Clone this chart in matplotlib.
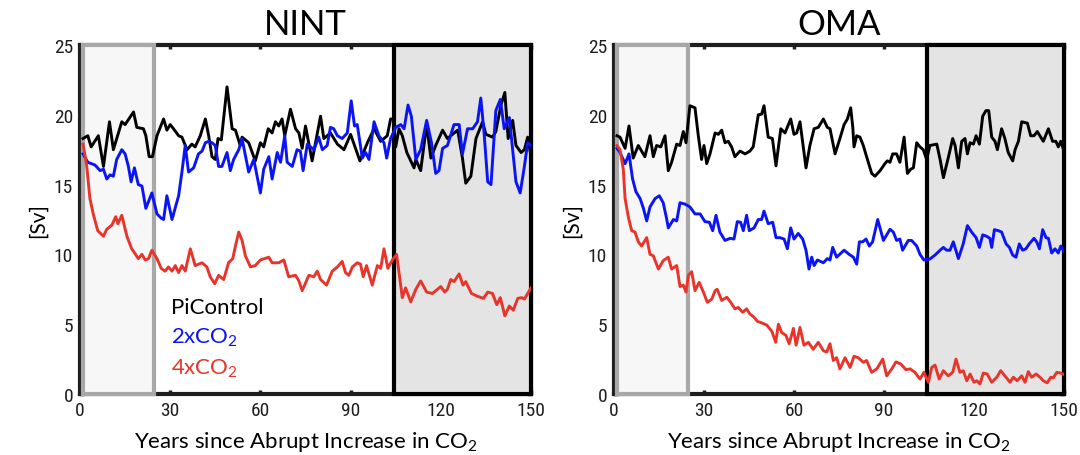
import matplotlib
matplotlib.use("Agg")
import matplotlib.pyplot as plt
from matplotlib.patches import Rectangle
from matplotlib import font_manager

plt.rcParams['font.family'] = ['Lato', 'DejaVu Sans']
plt.rcParams['mathtext.default'] = 'regular'

# ---------------- data ----------------
years_ticks = [0, 30, 60, 90, 120, 150]
sv_ticks = [0, 5, 10, 15, 20, 25]
panel_titles = ["NINT", "OMA"]
series_names = ["PiControl", "2xCO$_2$", "4xCO$_2$"]

nint_pi_yr = [1, 2.6, 3.7, 6.1, 7.8, 9.8, 11.1, 13.9, 15, 17.8, 18.9, 21.1, 21.9, 23, 24.1, 25.6, 27.8, 28.9, 30,
              31.1, 32.8, 33.9, 35.6, 37.2, 38.3, 40, 41.7, 42.8, 43.9, 45, 45.9, 47, 48.9, 50.6, 51.7, 53.3, 53.9,
              56.1, 58.3, 60, 61.1, 62.6, 63.9, 65, 66.1, 67.2, 68.1, 70, 71.7, 72.8, 73.9, 75, 77.2, 80, 81.1,
              83.3, 85.6, 87.8, 90, 93.1, 95.6, 97.8, 100, 102.2, 103.3, 104.2, 105, 106.1, 107.2, 108.7, 111.1,
              111.7, 113.3, 115.3, 116.7, 118.3, 120.6, 122.2, 123.9, 125.6, 127.2, 128.3, 130, 131.7, 133.9, 135,
              137.2, 138.3, 140, 141.3, 142.4, 143.9, 145, 146.7, 147.8, 148.9, 150]
nint_pi_sv = [18.3, 18.5, 17.7, 18.5, 16.3, 19.5, 17.5, 19.5, 19.3, 20.2, 19.1, 19.0, 18.5, 17.0, 17.0, 18.5, 19.7,
              18.9, 19.3, 19.0, 18.5, 18.4, 17.5, 17.9, 17.7, 18.5, 19.7, 18.5, 17.0, 16.8, 18.3, 18.2, 22.0, 19.0,
              18.9, 17.8, 18.4, 18.0, 16.7, 18.0, 17.7, 19.0, 18.7, 19.5, 19.2, 19.7, 18.5, 20.4, 19.0, 18.7, 17.6,
              19.2, 16.7, 19.9, 18.3, 18.7, 17.9, 17.5, 18.6, 16.7, 18.0, 19.0, 18.1, 18.5, 19.7, 19.7, 17.7, 19.0,
              18.5, 17.3, 16.2, 16.8, 16.0, 19.3, 16.9, 17.8, 18.9, 18.3, 18.6, 18.9, 16.9, 15.1, 15.6, 18.3, 19.5,
              18.6, 18.4, 18.8, 20.7, 21.6, 18.3, 19.6, 17.8, 17.3, 17.5, 18.4, 17.0]

nint_2x_yr = [1, 2.6, 5, 6.7, 7.8, 8.9, 10, 11.1, 12.2, 13.9, 15, 16.1, 17, 18.1, 19.4, 20.6, 21.9, 23.9, 25.6, 27,
              27.8, 28.9, 30.6, 32.8, 33.9, 35, 36.1, 37.8, 39.4, 40.6, 41.7, 42.8, 43.9, 45, 46.1, 47.2, 48.9, 50,
              51.1, 52.8, 53.9, 56.1, 57.8, 60, 61.1, 62.8, 63.9, 65.6, 66.7, 68.1, 68.9, 70.6, 72.2, 73.3, 74.2,
              75.6, 77.8, 79.4, 80.6, 82.2, 83.3, 84.4, 85.6, 87.2, 88.9, 90.2, 91.3, 92.2, 93.9, 95, 96.1, 97.8,
              99.4, 101.1, 102, 103.3, 105, 106.7, 107.8, 109.1, 110.2, 111.7, 113.3, 115.3, 116.9, 118.3, 119.4,
              120.6, 122.2, 124.4, 126.1, 127.2, 128.9, 130.6, 132.2, 133.3, 134.4, 135.6, 136.7, 138.3, 139.8,
              141.1, 142.8, 145, 146.4, 147.8, 148.9, 150]
nint_2x_sv = [17.2, 16.6, 16.4, 16.0, 16.1, 15.4, 15.7, 15.6, 16.8, 17.5, 17.2, 16.3, 15.2, 16.2, 15.0, 14.9, 13.3,
              14.4, 12.9, 12.6, 12.5, 14.2, 12.5, 14.2, 15.9, 17.8, 15.9, 16.2, 17.2, 17.4, 18.0, 18.1, 18.0, 17.8,
              16.3, 16.3, 17.3, 16.0, 16.8, 17.5, 18.3, 15.9, 16.8, 14.4, 16.1, 17.0, 15.4, 17.3, 16.6, 18.5, 16.6,
              16.3, 17.5, 17.4, 16.0, 17.9, 17.5, 18.4, 17.5, 17.8, 19.1, 19.0, 18.5, 18.3, 18.7, 21.0, 19.2, 19.3,
              16.9, 17.3, 16.8, 19.5, 18.5, 18.0, 16.9, 18.3, 19.1, 19.3, 19.0, 20.7, 19.9, 16.8, 17.5, 19.6, 18.0,
              15.8, 16.0, 17.6, 17.8, 19.3, 19.3, 17.2, 19.0, 19.0, 19.5, 21.2, 18.7, 15.2, 15.0, 20.3, 21.1, 19.0,
              19.8, 15.2, 14.4, 16.3, 18.0, 17.8]

nint_4x_yr = [1, 2.2, 3.3, 4.4, 5.9, 7.8, 8.9, 10.6, 11.9, 12.6, 13.9, 15.6, 17.2, 19.4, 20.6, 21.7, 22.8, 23.9,
              25.6, 27, 28.3, 29.4, 30.6, 31.7, 32.8, 33.9, 35, 36.7, 38.3, 40.6, 42.2, 43.3, 44.8, 46.1, 47.8, 49.4,
              50.8, 51.7, 52.8, 53.9, 55, 56.7, 58.3, 60, 61.4, 62.8, 63.9, 66.1, 67.8, 69.4, 71.7, 72.8, 73.9,
              76.1, 77.8, 78.9, 80, 82, 83.9, 85.6, 87.2, 88.3, 89.4, 90.6, 92.2, 93.3, 94.2, 95.3, 97.2, 98.9, 100,
              101.1, 102.4, 103.9, 105.3, 107.2, 108.3, 110, 111.7, 113.3, 115.3, 117.2, 118.9, 120, 121.3, 122.2,
              123.3, 124.4, 126.1, 127.4, 128.3, 130.2, 132.2, 134.2, 135.6, 137.2, 138.6, 139.8, 141.3, 142.8,
              144.1, 145.6, 146.9, 147.8, 150]
nint_4x_sv = [17.9, 16.4, 14.0, 12.9, 11.7, 11.3, 11.8, 12.1, 12.7, 12.2, 12.8, 11.3, 10.4, 9.7, 10.0, 9.6, 9.7,
              10.3, 9.7, 9.0, 8.8, 9.1, 8.8, 9.2, 8.7, 9.2, 8.8, 10.4, 9.2, 9.4, 9.1, 8.4, 7.9, 8.5, 8.2, 9.4, 9.7,
              10.6, 11.6, 11.0, 9.9, 9.1, 9.2, 9.6, 9.7, 9.8, 9.4, 9.4, 9.6, 8.4, 8.5, 8.1, 7.4, 8.5, 8.4, 8.8, 8.2,
              7.8, 8.8, 9.1, 9.5, 8.7, 8.5, 9.1, 9.4, 9.3, 8.4, 9.2, 7.8, 9.2, 9.0, 10.4, 9.0, 9.6, 10.0, 6.9, 7.6,
              6.6, 7.5, 8.1, 7.3, 7.2, 7.5, 7.7, 7.3, 7.5, 8.2, 8.05, 8.6, 7.8, 8.05, 7.2, 7.0, 6.85, 7.3, 7.2, 6.4,
              6.9, 5.6, 6.3, 6.0, 6.85, 6.9, 6.8, 7.6]

oma_pi_yr = [1, 2, 3.7, 5, 6.4, 8.1, 10.3, 12, 13.1, 14.2, 15.6, 17, 18.1, 19.2, 20.9, 22, 23.1, 24, 25.3, 27,
             28.1, 29.2, 30, 30.9, 32, 33.7, 34.8, 35.9, 37, 38.1, 39.2, 40.3, 42, 43.7, 45.3, 46.4, 48.1, 49.2,
             50, 51.4, 52.8, 54, 55.6, 57, 58.9, 60, 60.9, 62, 64, 65.3, 66.7, 68.1, 69.8, 71.1, 72, 73.7, 75.3,
             76.7, 77.8, 78.9, 79.6, 80, 80.9, 82, 83.1, 84.2, 85.9, 87, 88.7, 90.3, 91.1, 92, 92.9, 94.2, 95.3,
             96.7, 97.8, 98.9, 99.8, 100.9, 102, 103.1, 104.2, 105.3, 107.6, 108.7, 109.8, 111.4, 112.9, 113.7,
             114.8, 115.9, 117, 117.8, 118.7, 119.8, 120.7, 121.8, 122.9, 124, 124.9, 125.9, 127, 127.8, 129.2,
             130.3, 131.4, 132.9, 133.7, 134.8, 135.9, 137.8, 138.9, 140, 141.1, 143.1, 144.8, 146.2, 147.3,
             148.1, 148.9, 150]
oma_pi_sv = [18.5, 18.4, 17.6, 19.2, 16.9, 17.8, 17.0, 18.5, 17.0, 17.8, 17.7, 18.5, 16.0, 16.6, 17.9, 17.8, 18.8,
             18.0, 20.65, 20.5, 18.5, 16.8, 17.8, 16.5, 17.2, 18.7, 18.6, 18.9, 18.0, 18.1, 17.7, 17.0, 17.4, 17.2,
             17.4, 17.7, 20.0, 20.05, 20.65, 18.4, 18.3, 16.35, 19.0, 18.7, 19.7, 18.6, 18.7, 19.5, 16.2, 17.8,
             19.0, 19.1, 19.7, 19.1, 19.0, 17.2, 18.3, 19.3, 19.7, 20.5, 19.1, 17.7, 18.5, 18.4, 17.8, 17.0, 15.8,
             15.6, 16.0, 16.5, 16.7, 16.6, 17.2, 17.2, 16.6, 18.4, 15.8, 16.1, 16.2, 18.0, 17.7, 17.5, 16.8, 17.8,
             17.9, 16.8, 15.5, 16.9, 18.3, 17.8, 16.2, 18.1, 18.3, 17.2, 18.0, 17.9, 18.5, 17.9, 19.9, 20.3, 20.3,
             18.4, 18.1, 17.5, 19.0, 18.3, 17.3, 16.7, 17.5, 18.1, 19.5, 19.4, 18.5, 18.5, 18.8, 18.1, 19.0, 18.1,
             18.1, 17.7, 18.1, 17.4]

oma_2x_yr = [1, 2, 3.7, 5, 6.2, 7.3, 8.7, 9.8, 10.9, 12, 13.7, 15.1, 16.4, 17.6, 18.1, 19.8, 20.9, 22, 23.7, 25.3,
             27, 28.7, 30.3, 31.8, 32.9, 34, 35.3, 37, 38.7, 40, 41.1, 42.2, 43.1, 44.2, 45.1, 46.7, 48.1, 49.2, 50,
             51.4, 52.9, 54, 55.3, 56.7, 57.8, 58.9, 60, 61.4, 62.9, 64, 65, 65.9, 66.7, 67.8, 69.8, 71.1, 72, 72.9,
             74.2, 76.7, 78.4, 79.8, 80.9, 81.8, 82.9, 84, 85.1, 86.2, 87.9, 89.8, 92, 93.1, 94.2, 95.3, 96.2, 98.1,
             99.2, 100.9, 102, 103.3, 105.3, 107, 108.7, 109.8, 110.9, 112, 113.1, 114.8, 116.4, 117.8, 119.2,
             120.7, 121.8, 122.9, 124.2, 125.3, 125.9, 126.8, 128.1, 129.2, 130.7, 131.8, 132.9, 134, 135.1,
             136.2, 137.3, 138.4, 140, 140.9, 141.8, 142.9, 144, 144.8, 145.9, 147, 148.1, 148.9, 150]
oma_2x_sv = [17.6, 17.3, 16.5, 17.2, 15.4, 14.5, 14.0, 13.3, 12.4, 13.4, 14.0, 14.2, 13.7, 12.5, 11.9, 12.5, 12.4,
             13.7, 13.6, 13.4, 12.9, 12.9, 12.35, 12.3, 11.7, 12.8, 11.6, 11.0, 11.15, 11.1, 12.35, 12.3, 11.7,
             12.8, 11.7, 11.9, 12.5, 12.5, 13.1, 12.2, 12.3, 11.2, 11.2, 11.1, 10.4, 11.9, 11.1, 11.5, 11.1, 10.3,
             8.95, 9.8, 9.2, 9.6, 9.4, 9.7, 9.6, 10.5, 9.8, 10.3, 10.0, 9.8, 9.3, 10.9, 10.9, 11.1, 10.6, 10.9,
             12.5, 11.0, 11.8, 11.6, 11.0, 11.1, 10.3, 11.0, 11.0, 10.6, 10.0, 9.6, 9.67, 9.95, 10.3, 10.5, 10.3,
             10.3, 10.9, 9.7, 10.75, 12.06, 11.6, 11.2, 10.5, 11.4, 11.3, 11.15, 10.5, 11.77, 11.7, 11.6, 10.75,
             10.5, 9.95, 9.8, 10.75, 10.3, 10.4, 10.75, 11.15, 10.9, 10.4, 11.77, 11.2, 11.15, 10.1, 10.4, 10.1,
             10.6, 10.2]

oma_4x_yr = [1, 2, 3.1, 3.7, 4.8, 5.9, 7, 8.1, 9.2, 10.9, 12, 13.1, 14.8, 16.4, 18.1, 19.2, 20.9, 22, 23.1, 24,
             24.8, 25.9, 27, 28.4, 29.8, 31.1, 32.6, 33.7, 34.4, 35.9, 37.6, 38.9, 40.3, 41.4, 42.9, 44.2, 45.3,
             46.7, 47.8, 49.2, 50.9, 52.6, 53.9, 54.8, 55.9, 57.3, 58.4, 59.8, 60.7, 62, 63.3, 64.8, 66.4, 68.1,
             69.8, 70.9, 72, 73.1, 74.2, 75.3, 77, 78.7, 80, 81.4, 83.1, 84.2, 85.9, 87.6, 89.6, 90.9, 92.6, 94,
             95.6, 97.3, 98.7, 100.3, 102, 103.3, 104.8, 105.9, 107, 108.4, 109.8, 111.4, 112.9, 114, 115.3, 116.4,
             117.6, 118.7, 120, 120.9, 122, 123.1, 124.4, 125.9, 127.6, 128.9, 130.3, 132, 133.1, 134.4, 135.9,
             137, 138.1, 139.2, 140.7, 142, 143.1, 144.4, 145.6, 146.4, 147.6, 148.9, 150]
oma_4x_sv = [17.8, 17.5, 16.1, 14.0, 12.65, 11.7, 11.6, 10.9, 10.6, 11.2, 10.0, 9.9, 8.95, 9.55, 9.8, 8.95, 9.2,
             7.7, 7.8, 7.3, 8.5, 8.76, 7.4, 8.0, 7.3, 6.57, 6.8, 7.4, 7.5, 6.7, 6.93, 6.57, 6.1, 6.2, 5.85, 6.1,
             5.73, 5.5, 5.2, 5.1, 4.94, 4.5, 3.7, 5.0, 4.4, 4.2, 3.6, 4.7, 3.5, 4.77, 3.5, 3.7, 3.2, 3.7, 3.1, 3.0,
             3.6, 2.4, 2.6, 1.8, 2.6, 1.9, 2.7, 2.6, 2.27, 2.4, 1.55, 1.8, 2.5, 1.3, 1.8, 2.3, 2.15, 1.74, 1.8,
             1.55, 1.07, 1.55, 0.84, 1.9, 2.07, 1.07, 1.67, 1.3, 1.55, 2.5, 1.55, 1.67, 0.95, 1.43, 0.84, 0.95,
             0.72, 1.5, 1.43, 0.84, 1.2, 1.67, 1.3, 0.84, 1.2, 0.95, 1.3, 0.84, 1.6, 1.2, 1.43, 1.2, 0.95, 0.8,
             1.2, 1.15, 1.55, 1.5, 1.4]

early_window = (1, 24.6)
late_window = (104.3, 150)

# ---------------- styling ----------------
C_PI = "#000000"
C_2X = "#0a14f5"
C_4X = "#e8352b"


def narrow_tick_font():
    """Pick a condensed face for the tick numbers if one is installed."""
    for fam in ['Liberation Sans Narrow', 'DejaVu Sans Condensed', 'Roboto Condensed', 'Open Sans Condensed']:
        try:
            font_manager.findfont(font_manager.FontProperties(family=fam), fallback_to_default=False)
            return dict(family=fam)
        except Exception:
            continue
    return dict(family='DejaVu Sans', stretch='condensed')


tick_font = narrow_tick_font()

fig = plt.figure(figsize=(10.8, 4.56), dpi=100)
ax_l = fig.add_axes([80 / 1080, 61 / 456, 451 / 1080, 349 / 456])
ax_r = fig.add_axes([614 / 1080, 61 / 456, 450 / 1080, 349 / 456])

panels = [
    (ax_l, panel_titles[0], (nint_pi_yr, nint_pi_sv), (nint_2x_yr, nint_2x_sv), (nint_4x_yr, nint_4x_sv)),
    (ax_r, panel_titles[1], (oma_pi_yr, oma_pi_sv), (oma_2x_yr, oma_2x_sv), (oma_4x_yr, oma_4x_sv)),
]

for ax, title, pi, x2, x4 in panels:
    ax.set_xlim(0, 150)
    ax.set_ylim(0, 25)

    # analysis windows, outlined above the axes frame
    ax.add_patch(Rectangle((early_window[0], 0), early_window[1] - early_window[0], 25,
                           facecolor="#f7f7f7", edgecolor="#a8a8a8", lw=3.0, zorder=2.6, clip_on=False))
    ax.add_patch(Rectangle((late_window[0], 0), late_window[1] - late_window[0], 25,
                           facecolor="#e4e4e4", edgecolor="#000000", lw=3.0, zorder=2.6, clip_on=False))

    ax.plot(pi[0], pi[1], color=C_PI, lw=2.1, zorder=4)
    ax.plot(x2[0], x2[1], color=C_2X, lw=2.1, zorder=4)
    ax.plot(x4[0], x4[1], color=C_4X, lw=2.1, zorder=4)

    for s in ax.spines.values():
        s.set_linewidth(3.0)
        s.set_color("#1e1e1e")

    ax.set_xticks(years_ticks)
    ax.set_yticks(sv_ticks)
    ax.tick_params(direction='in', length=3, width=2.5, top=True, right=True,
                   labelsize=14, colors="#1e1e1e", pad=5)
    for lab in ax.get_xticklabels() + ax.get_yticklabels():
        lab.set_fontfamily(tick_font['family'])
        if 'stretch' in tick_font:
            lab.set_fontstretch(tick_font['stretch'])

    ax.set_title(title, fontsize=25, pad=8)
    ax.set_xlabel("Years since Abrupt Increase in CO$_2$", fontsize=16, labelpad=7)
    ax.set_ylabel("[Sv]", fontsize=15, labelpad=4)

# series labels
ax_l.text(30.3, 6.2, series_names[0], color=C_PI, fontsize=16, va='center', ha='left', zorder=5)
ax_l.text(30.3, 4.1, series_names[1], color=C_2X, fontsize=16, va='center', ha='left', zorder=5)
ax_l.text(30.3, 1.9, series_names[2], color=C_4X, fontsize=16, va='center', ha='left', zorder=5)

fig.savefig("out.png", dpi=100)
